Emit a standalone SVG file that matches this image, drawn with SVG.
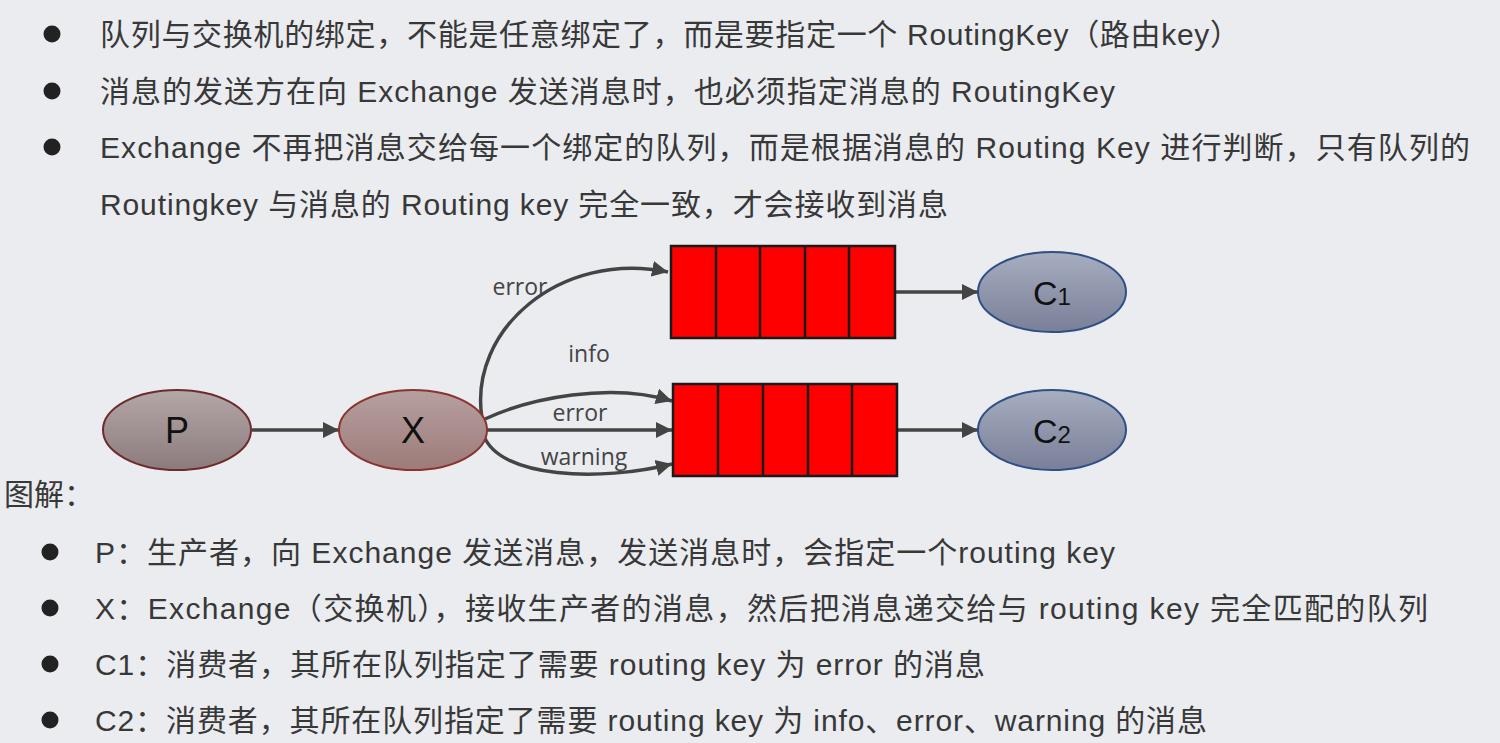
<svg xmlns="http://www.w3.org/2000/svg" width="1500" height="743" viewBox="0 0 1500 743">
<defs>
<style>
.t{font-family:"Liberation Sans","Noto Sans CJK SC",sans-serif;font-size:30px;fill:#383838;}
.lbl{font-family:"Open Sans","Liberation Sans",sans-serif;font-size:23px;fill:#444;text-anchor:middle;}
.nd{font-family:"Liberation Sans",sans-serif;fill:#111;text-anchor:middle;}
.ln{fill:none;stroke:#444;stroke-width:3.5;marker-end:url(#ah);}
.q{fill:#ff0000;stroke:#1a1a1a;stroke-width:2.5;}
.bul{fill:#222;}
</style>
<marker id="ah" markerUnits="userSpaceOnUse" markerWidth="18" markerHeight="18" refX="16" refY="8" orient="auto" viewBox="0 0 18 16">
<path d="M0,0 L16,8 L0,16 z" fill="#444"/>
</marker>
<linearGradient id="gP" x1="0" y1="0" x2="0" y2="1"><stop offset="0" stop-color="#b4a7a8"/><stop offset="1" stop-color="#8c7b7c"/></linearGradient>
<linearGradient id="gX" x1="0" y1="0" x2="0" y2="1"><stop offset="0" stop-color="#b6a0a0"/><stop offset="1" stop-color="#9d7b79"/></linearGradient>
<linearGradient id="gC" x1="0" y1="0" x2="0" y2="1"><stop offset="0" stop-color="#a7aec0"/><stop offset="1" stop-color="#787f98"/></linearGradient>
</defs>
<rect width="1500" height="743" fill="#eaecf0"/>

<g id="top-text">
<circle class="bul" cx="52" cy="34" r="8.5"/>
<circle class="bul" cx="52" cy="91" r="8.5"/>
<circle class="bul" cx="52" cy="147" r="8.5"/>
<text class="t" x="100" y="45" textLength="1140" lengthAdjust="spacing">队列与交换机的绑定，不能是任意绑定了，而是要指定一个 RoutingKey（路由key）</text>
<text class="t" x="100" y="102" textLength="1015" lengthAdjust="spacing">消息的发送方在向 Exchange 发送消息时，也必须指定消息的 RoutingKey</text>
<text class="t" x="100" y="158" textLength="1370" lengthAdjust="spacing">Exchange 不再把消息交给每一个绑定的队列，而是根据消息的 Routing Key 进行判断，只有队列的</text>
<text class="t" x="100" y="215" textLength="848" lengthAdjust="spacing">Routingkey 与消息的 Routing key 完全一致，才会接收到消息</text>
</g>

<g id="connectors">
<path class="ln" d="M252,430 L339,430"/>
<path class="ln" d="M482,418 C468,330 560,250 668,272"/>
<path class="ln" d="M485,419 C530,398 610,382 672,401"/>
<path class="ln" d="M487,430 L672,430"/>
<path class="ln" d="M484,436 C500,478 600,482 672,464"/>
<path class="ln" d="M895,292 L978,292"/>
<path class="ln" d="M897,430 L978,430"/>
<text class="lbl" x="520" y="295">error</text>
<text class="lbl" x="589" y="362">info</text>
<text class="lbl" x="580" y="421">error</text>
<text class="lbl" x="584" y="465">warning</text>
</g>

<g id="node-P">
<ellipse cx="177" cy="430" rx="74" ry="40" fill="url(#gP)" stroke="#6e2b2b" stroke-width="2"/>
<text class="nd" x="177" y="443" font-size="36">P</text>
</g>
<g id="node-X">
<ellipse cx="413" cy="430" rx="74" ry="40" fill="url(#gX)" stroke="#8a3430" stroke-width="2"/>
<text class="nd" x="413" y="443" font-size="36">X</text>
</g>
<g id="queue-1">
<rect class="q" x="671" y="246" width="224" height="92"/>
<path d="M716,246 V338 M760,246 V338 M805,246 V338 M849,246 V338" stroke="#1a1a1a" stroke-width="2.5"/>
</g>
<g id="queue-2">
<rect class="q" x="673" y="384" width="224" height="92"/>
<path d="M718,384 V476 M763,384 V476 M808,384 V476 M852,384 V476" stroke="#1a1a1a" stroke-width="2.5"/>
</g>
<g id="node-C1">
<ellipse cx="1052" cy="292" rx="74" ry="40" fill="url(#gC)" stroke="#2f4f86" stroke-width="2"/>
<text class="nd" x="1052" y="305" font-size="34">C<tspan font-size="24">1</tspan></text>
</g>
<g id="node-C2">
<ellipse cx="1052" cy="430" rx="74" ry="40" fill="url(#gC)" stroke="#2f4f86" stroke-width="2"/>
<text class="nd" x="1052" y="443" font-size="34">C<tspan font-size="24">2</tspan></text>
</g>

<g id="bottom-text">
<text class="t" x="4" y="505">图解：</text>
<circle class="bul" cx="50" cy="552" r="8.5"/>
<circle class="bul" cx="50" cy="608" r="8.5"/>
<circle class="bul" cx="50" cy="664" r="8.5"/>
<circle class="bul" cx="50" cy="720" r="8.5"/>
<text class="t" x="95" y="563" textLength="1020" lengthAdjust="spacing">P：生产者，向 Exchange 发送消息，发送消息时，会指定一个routing key</text>
<text class="t" x="95" y="619" textLength="1333" lengthAdjust="spacing">X：Exchange（交换机），接收生产者的消息，然后把消息递交给与 routing key 完全匹配的队列</text>
<text class="t" x="95" y="675" textLength="890" lengthAdjust="spacing">C1：消费者，其所在队列指定了需要 routing key 为 error 的消息</text>
<text class="t" x="95" y="731" textLength="1112" lengthAdjust="spacing">C2：消费者，其所在队列指定了需要 routing key 为 info、error、warning 的消息</text>
</g>
</svg>
